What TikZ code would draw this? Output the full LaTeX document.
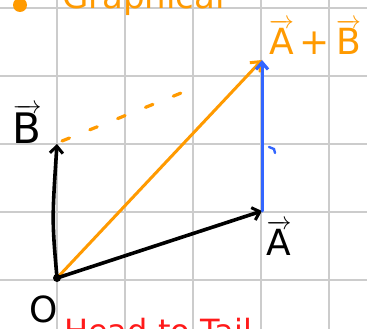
\documentclass[tikz,border=0pt]{standalone}
\usepackage{amsmath}
\usepackage{fontspec}
\setsansfont{DejaVu Sans}
\usetikzlibrary{arrows.meta,calc}
\definecolor{gridc}{HTML}{CCCCCC}
\definecolor{orng}{HTML}{FF9A00}
\definecolor{blu}{HTML}{3366FF}
\definecolor{redc}{HTML}{FF1A1A}
\tikzset{
  gridline/.style={draw=gridc, line width=1.8pt},
  vecblack/.style={draw=black, line width=3.6pt, line cap=round, -{Straight Barb[length=7pt,width=13pt,line width=3pt]}},
  vecorange/.style={draw=orng, line width=3pt, line cap=round, -{Straight Barb[length=8pt,width=14pt,line width=3pt]}},
  vecblue/.style={draw=blu, line width=3pt, line cap=round, -{Straight Barb[length=7pt,width=12pt,line width=3.2pt]}},
  dashorange/.style={draw=orng, line width=3.2pt, line cap=round, dash pattern=on 8pt off 22pt},
  lbl/.style={inner sep=0pt, font=\fontsize{36}{38}\selectfont\sffamily},
}
\newcommand{\vv}[1]{$\overrightarrow{\textsf{#1}}$}
\begin{document}
\begin{tikzpicture}[x=1pt,y=-1pt]
\useasboundingbox (0,0) rectangle (367,329);
\clip (0,0) rectangle (367,329);
\fill[white] (0,0) rectangle (367,329);
% grid
\foreach \x in {57,125,193,261,329} \draw[gridline] (\x,0) -- (\x,329);
\foreach \y in {8,76,144,212,280} \draw[gridline] (0,\y) -- (367,\y);
% points
\coordinate (O) at (57,278);
\coordinate (A) at (262,211);
\coordinate (B) at (57,144);
\coordinate (S) at (262,60);
\coordinate (Bd) at (62,141);
\coordinate (Be) at ($(B)!0.7!(S)$);
\coordinate (Ad) at (263.5,209);
\coordinate (Ae) at (263.5,120);
% top cut text and dot
\fill[orng] (20,5) circle (7);
\node[anchor=base west, inner sep=0pt, text=orng, font=\fontsize{34}{36}\selectfont\sffamily] (top) at (62,9) {Graphical};
% bottom cut text
\node[anchor=north west, inner sep=0pt, text=redc, font=\fontsize{32}{34}\selectfont\sffamily] (bot) at (64,318) {Head to Tail};
% dashed helpers
\draw[dashorange] (Bd) -- (Be);
\draw[draw=orng, line width=1.4pt, dash pattern=on 10pt off 6pt] (Ad) -- (Ae);
% vectors
\draw[vecorange] (O) -- (S);
\draw[vecblack] (O) .. controls (52,220) .. (B);
\draw[vecblack] (O) -- (A);
\draw[vecblue] (A) -- (S);
\draw[blu, line width=2.4pt, line cap=round] (269,147) -- (274,149) -- (275,153);
\fill (O) circle (4);
% labels
\node[lbl] (la) at (279,238) {\vv{A}};
\node[lbl, text=orng] (ls) at (315,37) {\vv{A}\,+\,\vv{B}};
\node[lbl, font=\fontsize{42}{44}\selectfont\sffamily] (lb) at (27,124) {\vv{B}};
\node[lbl, font=\fontsize{36}{38}\selectfont\sffamily] (lo) at (44,309) {O};
\end{tikzpicture}
\end{document}
